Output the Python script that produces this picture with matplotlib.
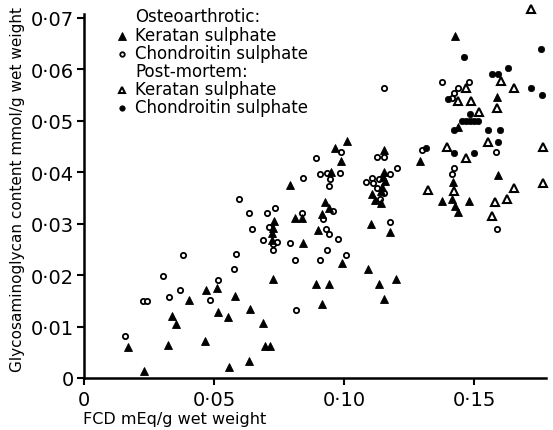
import matplotlib
matplotlib.use("Agg")
import matplotlib.pyplot as plt
from matplotlib.lines import Line2D

# Osteoarthrotic keratan sulphate (filled triangles)
oa_ks_x = [0.0171, 0.0231, 0.0321, 0.0340, 0.0353, 0.0404, 0.0464, 0.0470, 0.0512, 0.0515,
           0.0552, 0.0580, 0.0557, 0.0730, 0.0728, 0.0724, 0.0724, 0.0840, 0.0992, 0.0727,
           0.0893, 0.0942, 0.0913, 0.0638, 0.0689, 0.0695, 0.0714, 0.0634, 0.1011, 0.0966,
           0.0988, 0.0950, 0.0790, 0.0928, 0.0942, 0.0916, 0.0813, 0.0839, 0.0900, 0.1152,
           0.1152, 0.1149, 0.1158, 0.1145, 0.1143, 0.1107, 0.1120, 0.1142, 0.1102, 0.1175,
           0.1292, 0.1420, 0.1416, 0.1427, 0.1439, 0.1377, 0.1479, 0.1439, 0.1427, 0.1589,
           0.1590, 0.1092, 0.1134, 0.1199, 0.1153]
oa_ks_y = [0.0061, 0.0013, 0.0064, 0.0121, 0.0105, 0.0152, 0.0071, 0.0171, 0.0174, 0.0129,
           0.0118, 0.0160, 0.0021, 0.0304, 0.0292, 0.0281, 0.0268, 0.0263, 0.0223, 0.0192,
           0.0182, 0.0182, 0.0143, 0.0134, 0.0106, 0.0063, 0.0063, 0.0033, 0.0461, 0.0447,
           0.0421, 0.0400, 0.0374, 0.0342, 0.0330, 0.0318, 0.0310, 0.0310, 0.0288, 0.0442,
           0.0400, 0.0390, 0.0382, 0.0371, 0.0364, 0.0358, 0.0345, 0.0339, 0.0300, 0.0284,
           0.0421, 0.0381, 0.0348, 0.0334, 0.0323, 0.0343, 0.0343, 0.0487, 0.0665, 0.0545,
           0.0394, 0.0211, 0.0182, 0.0193, 0.0153]

# Osteoarthrotic chondroitin sulphate (open circles)
oa_cs_x = [0.0157, 0.0225, 0.0242, 0.0305, 0.0381, 0.0327, 0.0369, 0.0483, 0.0515, 0.0576,
           0.0585, 0.0689, 0.0727, 0.0743, 0.0726, 0.0790, 0.0975, 0.0812, 0.0906, 0.0933,
           0.1008, 0.0814, 0.0987, 0.0893, 0.0906, 0.0934, 0.0985, 0.0944, 0.0842, 0.0943,
           0.0595, 0.0957, 0.0633, 0.0704, 0.0735, 0.0839, 0.0918, 0.0644, 0.0710, 0.0932,
           0.0941, 0.1128, 0.1155, 0.1203, 0.1107, 0.1084, 0.1111, 0.1135, 0.1176, 0.1126,
           0.1155, 0.1136, 0.1175, 0.1299, 0.1424, 0.1415, 0.1377, 0.1481, 0.1437, 0.1423,
           0.1416, 0.1152, 0.1583, 0.1589]
oa_cs_y = [0.0081, 0.0150, 0.0150, 0.0199, 0.0238, 0.0157, 0.0171, 0.0152, 0.0190, 0.0212,
           0.0240, 0.0269, 0.0261, 0.0265, 0.0249, 0.0263, 0.0270, 0.0230, 0.0230, 0.0248,
           0.0239, 0.0132, 0.0439, 0.0428, 0.0397, 0.0398, 0.0398, 0.0387, 0.0389, 0.0372,
           0.0348, 0.0324, 0.0321, 0.0321, 0.0330, 0.0321, 0.0308, 0.0290, 0.0294, 0.0290,
           0.0280, 0.0429, 0.0429, 0.0408, 0.0389, 0.0381, 0.0379, 0.0387, 0.0397, 0.0370,
           0.0360, 0.0347, 0.0303, 0.0442, 0.0408, 0.0397, 0.0574, 0.0575, 0.0563, 0.0554,
           0.0543, 0.0563, 0.0439, 0.0290]

# Post-mortem keratan sulphate (open triangles)
pm_ks_x = [0.1717, 0.1602, 0.1654, 0.1468, 0.1437, 0.1489, 0.1589, 0.1520, 0.1554, 0.1394,
           0.1470, 0.1765, 0.1765, 0.1653, 0.1625, 0.1581, 0.1570, 0.1324, 0.1424]
pm_ks_y = [0.0716, 0.0577, 0.0564, 0.0563, 0.0538, 0.0538, 0.0525, 0.0517, 0.0458, 0.0448,
           0.0427, 0.0448, 0.0379, 0.0370, 0.0348, 0.0341, 0.0314, 0.0366, 0.0364]

# Post-mortem chondroitin sulphate (filled circles)
pm_cs_x = [0.1460, 0.1755, 0.1631, 0.1567, 0.1593, 0.1718, 0.1761, 0.1401, 0.1484, 0.1452,
           0.1468, 0.1484, 0.1499, 0.1516, 0.1424, 0.1554, 0.1599, 0.1593, 0.1424, 0.1499,
           0.1315]
pm_cs_y = [0.0623, 0.0639, 0.0602, 0.0591, 0.0591, 0.0564, 0.0550, 0.0541, 0.0513, 0.0499,
           0.0499, 0.0499, 0.0499, 0.0499, 0.0481, 0.0481, 0.0481, 0.0459, 0.0437, 0.0437,
           0.0447]

x_ticks = [0, 0.05, 0.10, 0.15]
x_tick_labels = ["0", "0·05", "0·10", "0·15"]
y_ticks = [0, 0.01, 0.02, 0.03, 0.04, 0.05, 0.06, 0.07]
y_tick_labels = ["0", "0·01", "0·02", "0·03", "0·04", "0·05", "0·06", "0·07"]

legend_entries = [
    ("Osteoarthrotic:", None),
    ("Keratan sulphate", "oa_ks"),
    ("Chondroitin sulphate", "oa_cs"),
    ("Post-mortem:", None),
    ("Keratan sulphate", "pm_ks"),
    ("Chondroitin sulphate", "pm_cs"),
]

W, H = 553, 431
fig = plt.figure(figsize=(W / 100, H / 100), dpi=100)
left, right, top, bottom = 84, 546, 15, 379
ax = fig.add_axes([left / W, 1 - bottom / H, (right - left) / W, (bottom - top) / H])

styles = {
    "oa_ks": dict(marker="^", ms=6.2, mfc="black", mec="black", mew=0.6),
    "oa_cs": dict(marker="o", ms=3.8, mfc="white", mec="black", mew=1.3),
    "pm_ks": dict(marker="^", ms=5.6, mfc="white", mec="black", mew=1.5),
    "pm_cs": dict(marker="o", ms=4.6, mfc="black", mec="black", mew=0.5),
}

ax.plot(oa_cs_x, oa_cs_y, ls="none", clip_on=False, **styles["oa_cs"])
ax.plot(pm_cs_x, pm_cs_y, ls="none", clip_on=False, **styles["pm_cs"])
ax.plot(oa_ks_x, oa_ks_y, ls="none", clip_on=False, **styles["oa_ks"])
ax.plot(pm_ks_x, pm_ks_y, ls="none", clip_on=False, **styles["pm_ks"])

ax.set_xlim(0, 0.1776)
ax.set_ylim(0, 0.0707)
for s in ["top", "right"]:
    ax.spines[s].set_visible(False)
for s in ["left", "bottom"]:
    ax.spines[s].set_linewidth(1.8)

ax.set_xticks(x_ticks)
ax.set_xticklabels(x_tick_labels)
ax.set_yticks(y_ticks)
ax.set_yticklabels(y_tick_labels)
ax.tick_params(axis="both", direction="out", length=5, width=1.5, labelsize=14)
ax.tick_params(axis="y", pad=2)
ax.tick_params(axis="x", pad=4)

fig.text(175 / W, 1 - 420 / H, "FCD mEq/g wet weight", ha="center", va="center", fontsize=11.5)
fig.text(18 / W, 1 - 190 / H, "Glycosaminoglycan content mmol/g wet weight",
         ha="center", va="center", rotation=90, fontsize=11)

# legend drawn manually
ys = [17, 36, 54, 72, 90, 108]
for (label, key), yp in zip(legend_entries, ys):
    fig.text(135 / W, 1 - yp / H, label, ha="left", va="center", fontsize=12)
    if key is not None:
        st = dict(styles[key])
        st["ms"] = st["ms"] * 0.85
        fig.add_artist(Line2D([122 / W], [1 - (yp + 1) / H], transform=fig.transFigure,
                              ls="none", **st))

fig.savefig("out.png", dpi=100)
